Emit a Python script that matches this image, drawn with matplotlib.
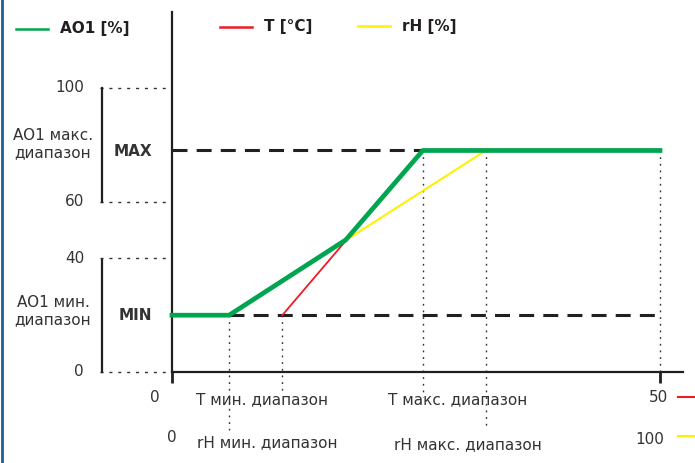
import matplotlib
matplotlib.use('Agg')
import matplotlib.pyplot as plt
from matplotlib.lines import Line2D

# Werte aus dem Diagramm (AO1 in %, T in °C, rH in %)
t_ticks = [0, 50]
rh_ticks = [0, 100]
ao_ticks = [0, 40, 60, 100]
ao_min = 20
ao_max = 78
t_range = [11.3, 25.7]
rh_range = [11.7, 64.3]
ao1_x = [0, 5.85, 17.8, 25.7, 50]      # T-Skala
ao1_y = [20, 20, 46.5, 78, 78]

W, H = 695, 463
X0, X1 = 172, 660   # Pixel fuer T=0 und T=50
Y0, Y1 = 372, 88    # Pixel fuer AO1=0 und AO1=100
xs = (X1 - X0) / t_ticks[-1]
ys = (Y0 - Y1) / ao_ticks[-1]
rh_k = t_ticks[-1] / rh_ticks[-1]

TXT = '#333333'
plt.rcParams['font.family'] = ['DejaVu Sans']


def fp(x, y):
    return x / W, 1 - y / H


fig = plt.figure(figsize=(W / 100, H / 100), dpi=100)
ax = fig.add_axes([X0 / W, (H - Y0) / H, (683 - X0) / W, (Y0 - 12) / H])
ax.set_xlim(0, (683 - X0) / xs)
ax.set_ylim(0, (Y0 - 12) / ys)
for s in ['top', 'right']:
    ax.spines[s].set_visible(False)
for s in ['left', 'bottom']:
    ax.spines[s].set_linewidth(1.6)
    ax.spines[s].set_color('#231f20')
ax.set_yticks([])
ax.set_xticks(t_ticks)
ax.set_xticklabels([])
ax.tick_params(axis='x', direction='out', length=8, width=2, color='#231f20')

dot = dict(color='#333333', lw=1.0, clip_on=False, zorder=1)

# Y-Hilfslinien links der Achse
for v in ao_ticks:
    ax.plot([(100 - X0) / xs, 0], [v, v], dashes=(2.2, 4.2), **dot)
    fig.text(*fp(84, Y0 - v * ys), str(v), ha='right', va='center',
             fontsize=11, color=TXT)
# Klammern
ax.plot([(102 - X0) / xs] * 2, [ao_ticks[2], ao_ticks[3]], color='#231f20',
        lw=1.6, clip_on=False)
ax.plot([(102 - X0) / xs] * 2, [0, ao_ticks[1] - 0.4], color='#231f20',
        lw=1.6, clip_on=False)

# MIN / MAX
ax.plot([0, t_range[1]], [ao_max, ao_max], color='#231f20', lw=2.2,
        dashes=(4.9, 3.0), zorder=2, clip_on=False)
ax.plot([rh_range[0] * rh_k, t_ticks[1]], [ao_min, ao_min], color='#231f20',
        lw=2.2, dashes=(4.9, 3.0), zorder=2, clip_on=False)

# senkrechte Hilfslinien
bot = lambda py: -(py - Y0) / ys
ax.plot([rh_range[0] * rh_k] * 2, [ao_min, bot(430)], dashes=(1.3, 3.5), **dot)
ax.plot([t_range[0]] * 2, [ao_min, bot(394)], dashes=(1.3, 3.5), **dot)
ax.plot([t_range[1]] * 2, [ao_max, bot(397)], dashes=(1.3, 3.5), **dot)
ax.plot([rh_range[1] * rh_k] * 2, [ao_max, bot(428)], dashes=(1.3, 3.5), **dot)
ax.plot([t_ticks[1]] * 2, [ao_max, 0], dashes=(1.3, 3.5), **dot)

# Kennlinien
ax.plot([r * rh_k for r in rh_range], [ao_min, ao_max], color='#fff200',
        lw=1.5, zorder=3)
ax.plot(t_range, [ao_min, ao_max], color='#ed1c24', lw=1.3, zorder=3)
ax.plot(ao1_x, ao1_y, color='#00a54f', lw=3.4, zorder=4,
        solid_joinstyle='round', clip_on=False)

# Texte
kw = dict(fontsize=11, color=TXT, ha='center', va='center')
fig.text(*fp(53, 144), 'AO1 макс.\nдиапазон', linespacing=1.15, **kw)
fig.text(*fp(53, 311), 'AO1 мин.\nдиапазон', linespacing=1.15, **kw)
fig.text(*fp(133, 151), 'MAX', fontweight='bold', **kw)
fig.text(*fp(135, 315), 'MIN', fontweight='bold', **kw)
fig.text(*fp(155, 398), str(t_ticks[0]), **kw)
fig.text(*fp(172, 438), str(rh_ticks[0]), **kw)
fig.text(*fp(262, 400), 'T мин. диапазон', **kw)
fig.text(*fp(267, 443), 'rH мин. диапазон', **kw)
fig.text(*fp(458, 400), 'T макс. диапазон', **kw)
fig.text(*fp(468, 445), 'rH макс. диапазон', **kw)
fig.text(*fp(668, 398), str(t_ticks[1]), fontsize=11, color=TXT,
         ha='right', va='center')
fig.text(*fp(664, 440), str(rh_ticks[1]), fontsize=11, color=TXT,
         ha='right', va='center')
fig.add_artist(Line2D([678 / W, 1], [1 - 397 / H] * 2, color='#ed1c24', lw=1.5))
fig.add_artist(Line2D([678 / W, 1], [1 - 436 / H] * 2, color='#fff200', lw=1.5))

# Legende
leg = [('AO1 [%]', '#00a54f', 16, 29), ('T [°C]', '#ed1c24', 220, 27),
       ('rH [%]', '#fff200', 358, 26)]
for name, c, lx, ly in leg:
    fig.add_artist(Line2D([lx / W, (lx + 32) / W], [1 - ly / H] * 2, color=c,
                          lw=1.8))
    fig.text(*fp(lx + 44, ly), name, fontsize=11, fontweight='bold',
             color='#231f20', ha='left', va='center')

# blauer Rand links
fig.add_artist(Line2D([2 / W, 2 / W], [0, 1], color='#1f5f99', lw=2))

fig.savefig('out.png', dpi=100)
